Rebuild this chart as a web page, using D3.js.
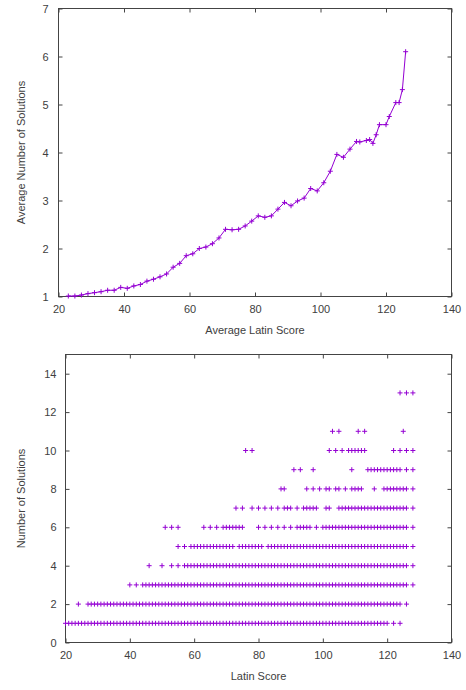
<!DOCTYPE html>
<html>
<head>
<meta charset="utf-8">
<script src="https://cdn.jsdelivr.net/npm/d3@7"></script>
<style>
  body { margin: 0; background: #fff; }
  text { font-family: "Liberation Sans", Arial, sans-serif; font-size: 11px; fill: #404040; }
</style>
</head>
<body>
<svg id="chart" width="466" height="690"></svg>
<script>
// Top chart: average number of solutions per average latin score
const avgScore = [
  23, 25, 27, 29, 31, 33, 35, 37, 39, 41,
  43, 45, 47, 49, 51, 53, 55, 57, 59, 61,
  63, 65, 67, 69, 71, 73, 75, 77, 79, 81,
  83, 85, 87, 89, 91, 93, 95, 97, 99, 101,
  103, 105, 107, 109, 111, 112, 114, 115, 116, 117,
  118, 120, 121, 123, 124, 125, 126
];
const avgSolutions = [
  1.01, 1.01, 1.03, 1.06, 1.08, 1.10, 1.13, 1.13, 1.19, 1.17,
  1.22, 1.25, 1.32, 1.36, 1.41, 1.47, 1.61, 1.69, 1.85, 1.89,
  2.00, 2.03, 2.10, 2.22, 2.40, 2.39, 2.40, 2.47, 2.57, 2.68,
  2.65, 2.68, 2.82, 2.96, 2.89, 2.99, 3.05, 3.25, 3.20, 3.37,
  3.61, 3.96, 3.90, 4.07, 4.23, 4.22, 4.25, 4.27, 4.19, 4.37,
  4.58, 4.58, 4.75, 5.04, 5.04, 5.31, 6.10
];

// Bottom chart: for each number of solutions, the latin scores that occur
const solutionCounts = [1, 2, 3, 4, 5, 6, 7, 8, 9, 10, 11, 13];
const scoresByCount = [
  [20, 21, 22, 23, 24, 25, 26, 27, 28, 29,
   30, 31, 32, 33, 34, 35, 36, 37, 38, 39,
   40, 41, 42, 43, 44, 45, 46, 47, 48, 49,
   50, 51, 52, 53, 54, 55, 56, 57, 58, 59,
   60, 61, 62, 63, 64, 65, 66, 67, 68, 69,
   70, 71, 72, 73, 74, 75, 76, 77, 78, 79,
   80, 81, 82, 83, 84, 85, 86, 87, 88, 89,
   90, 91, 92, 93, 94, 95, 96, 97, 98, 99,
   100, 101, 102, 103, 104, 105, 106, 107, 108, 109,
   110, 111, 112, 113, 114, 115, 116, 117, 118, 119,
   120, 122, 124],
  [24, 27, 28, 29,
   30, 31, 32, 33, 34, 35, 36, 37, 38, 39,
   40, 41, 42, 43, 44, 45, 46, 47, 48, 49,
   50, 51, 52, 53, 54, 55, 56, 57, 58, 59,
   60, 61, 62, 63, 64, 65, 66, 67, 68, 69,
   70, 71, 72, 73, 74, 75, 76, 77, 78, 79,
   80, 81, 82, 83, 84, 85, 86, 87, 88, 89,
   90, 91, 92, 93, 94, 95, 96, 97, 98, 99,
   100, 101, 102, 103, 104, 105, 106, 107, 108, 109,
   110, 111, 112, 113, 114, 115, 116, 117, 118, 119,
   120, 121, 122, 123, 124, 126],
  [40, 42, 44, 45, 46, 47, 48, 49,
   50, 51, 52, 53, 54, 55, 56, 57, 58, 59,
   60, 61, 62, 63, 64, 65, 66, 67, 68, 69,
   70, 71, 72, 73, 74, 75, 76, 77, 78, 79,
   80, 81, 82, 83, 84, 85, 86, 87, 88, 89,
   90, 91, 92, 93, 94, 95, 96, 97, 98, 99,
   100, 101, 102, 103, 104, 105, 106, 107, 108, 109,
   110, 111, 112, 113, 114, 115, 116, 117, 118, 119,
   120, 121, 122, 123, 124, 125, 126, 128],
  [46, 50, 53, 55, 57, 58, 59,
   60, 61, 62, 63, 64, 65, 66, 67, 68, 69,
   70, 71, 72, 73, 74, 75, 76, 77, 78, 79,
   80, 81, 82, 83, 84, 85, 86, 87, 88, 89,
   90, 91, 92, 93, 94, 95, 96, 97, 98, 99,
   100, 101, 102, 103, 104, 105, 106, 107, 108, 109,
   110, 111, 112, 113, 114, 115, 116, 117, 118, 119,
   120, 121, 122, 123, 124, 125, 126, 128],
  [55, 57, 59,
   60, 61, 62, 63, 64, 65, 66, 67, 68, 69,
   70, 71, 72, 74, 75, 76, 77, 78, 79,
   80, 81, 83, 84, 85, 86, 87, 88, 89,
   90, 91, 92, 93, 94, 95, 96, 97, 98, 99,
   100, 101, 102, 103, 104, 105, 106, 107, 108, 109,
   110, 111, 112, 113, 114, 115, 116, 117, 118, 119,
   120, 121, 122, 123, 124, 125, 126, 128],
  [51, 53, 55, 63, 65, 67, 69, 70, 71, 72, 73, 74, 75,
   80, 82, 84, 86, 88, 90, 92, 93, 94, 95, 96, 98,
   100, 101, 102, 103, 104, 105, 106, 107, 108, 109,
   110, 111, 112, 113, 114, 115, 116, 117, 118, 119,
   120, 121, 122, 123, 124, 125, 126, 128],
  [73, 75, 78, 80, 82, 84, 86, 88, 89, 90, 92, 94, 95, 96, 97, 98,
   101, 102, 105, 106, 107, 108, 109,
   110, 111, 112, 113, 114, 115, 116, 117, 118, 119,
   120, 121, 122, 123, 124, 125, 126, 128],
  [87, 88, 95, 97, 99, 101, 102, 104, 105, 107, 109, 110, 111, 112, 116,
   119, 120, 121, 122, 123, 124, 125, 126, 128],
  [91, 93, 97, 109, 114, 115, 116, 117, 118, 119, 120, 121, 122, 123, 124, 126, 128],
  [76, 78, 102, 104, 106, 108, 109, 110, 111, 112, 113, 122, 124, 126, 128],
  [103, 105, 111, 113, 125],
  [124, 126, 128]
];

const xTicks = [20, 40, 60, 80, 100, 120, 140];
const topYTicks = [1, 2, 3, 4, 5, 6, 7];
const bottomYTicks = [0, 2, 4, 6, 8, 10, 12, 14];

const purple = "#9400d3";
const axisColor = "#444";
const svg = d3.select("#chart");

// small "+" marker like gnuplot's point type 1
const plus = "M-2.5,0H2.5M0,-2.5V2.5";
const fmt = d3.format("d");

// draws frame, ticks on all four sides (inward) and labels
const drawFrame = (g, x, y, xTickVals, yTickVals, xTitle, yTitle, box) => {
  const [left, top, right, bottom] = box;
  const style = sel => {
    sel.select(".domain").remove();
    sel.selectAll(".tick line").attr("stroke", axisColor);
  };

  g.append("g").attr("transform", `translate(0,${bottom})`)
    .call(d3.axisBottom(x).tickValues(xTickVals).tickSize(-4).tickPadding(9).tickFormat(fmt))
    .call(style);
  g.append("g").attr("transform", `translate(0,${top})`)
    .call(d3.axisTop(x).tickValues(xTickVals).tickSize(-4).tickFormat(""))
    .call(style);
  g.append("g").attr("transform", `translate(${left},0)`)
    .call(d3.axisLeft(y).tickValues(yTickVals).tickSize(-4).tickPadding(box[4]).tickFormat(fmt))
    .call(style);
  g.append("g").attr("transform", `translate(${right},0)`)
    .call(d3.axisRight(y).tickValues(yTickVals).tickSize(-4).tickFormat(""))
    .call(style);

  g.selectAll(".tick text")
    .attr("fill", "#404040")
    .style("font-family", '"Liberation Sans", Arial, sans-serif')
    .style("font-size", "11px");

  g.append("rect")
    .attr("x", left).attr("y", top)
    .attr("width", right - left).attr("height", bottom - top)
    .attr("fill", "none").attr("stroke", axisColor).attr("stroke-width", 1);

  g.append("text")
    .attr("x", (left + right) / 2).attr("y", bottom + 37)
    .attr("text-anchor", "middle")
    .text(xTitle);

  g.append("text")
    .attr("transform", `translate(25,${(top + bottom) / 2}) rotate(-90)`)
    .attr("text-anchor", "middle")
    .text(yTitle);
};

// ---- top chart ----
const topBox = [58.5, 8.5, 451.5, 296.5, 10];
const xTop = d3.scaleLinear().domain([20, 140]).range([topBox[0], topBox[2]]);
const yTop = d3.scaleLinear().domain([1, 7]).range([topBox[3], topBox[1]]);
const gTop = svg.append("g");
drawFrame(gTop, xTop, yTop, xTicks, topYTicks, "Average Latin Score", "Average Number of Solutions", topBox);

const topPoints = avgScore.map((s, i) => [s, avgSolutions[i]]);

gTop.append("path")
  .datum(topPoints)
  .attr("fill", "none")
  .attr("stroke", purple)
  .attr("stroke-width", 1)
  .attr("d", d3.line().x(d => xTop(d[0])).y(d => yTop(d[1])));

gTop.selectAll(".pt")
  .data(topPoints)
  .enter()
  .append("path")
  .attr("class", "pt")
  .attr("transform", d => `translate(${xTop(d[0])},${yTop(d[1])})`)
  .attr("d", plus)
  .attr("stroke", purple)
  .attr("stroke-width", 1)
  .attr("fill", "none");

// ---- bottom chart ----
const botBox = [65.5, 354.5, 451.5, 642.5, 9];
const xBot = d3.scaleLinear().domain([20, 140]).range([botBox[0], botBox[2]]);
const yBot = d3.scaleLinear().domain([0, 15]).range([botBox[3], botBox[1]]);
const gBot = svg.append("g");
drawFrame(gBot, xBot, yBot, xTicks, bottomYTicks, "Latin Score", "Number of Solutions", botBox);

const scatter = solutionCounts.flatMap((c, i) => scoresByCount[i].map(s => [s, c]));

gBot.selectAll(".pt")
  .data(scatter)
  .enter()
  .append("path")
  .attr("class", "pt")
  .attr("transform", d => `translate(${xBot(d[0])},${yBot(d[1])})`)
  .attr("d", plus)
  .attr("stroke", purple)
  .attr("stroke-width", 1)
  .attr("fill", "none");
</script>
</body>
</html>
